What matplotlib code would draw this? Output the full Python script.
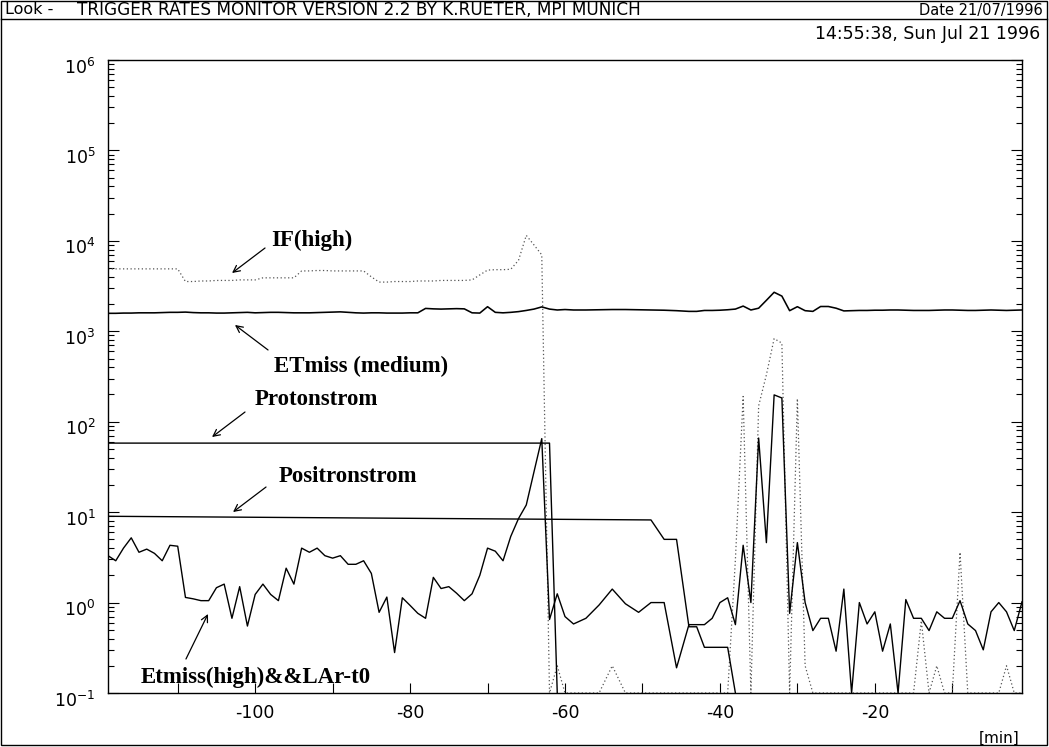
#! /usr/bin/env python
import numpy as np
import matplotlib as mpl
mpl.use('Agg')
import matplotlib.pyplot as plt
import matplotlib.transforms as mtransforms
from matplotlib.lines import Line2D
from matplotlib.patches import Rectangle
mpl.rc('font', family='DejaVu Sans', size=11)
mpl.rc('axes', unicode_minus=False)

W, H = 1049, 747

# time axis in minutes (sampling gets sparse between -60 and -44)
minutes = (list(range(-119, -59))
           + [-58.9, -57.3, -55.6, -53.9, -52.2, -50.5, -48.9, -47.2, -45.6]
           + list(range(-44, 0)))

# Etmiss(high)&&LAr-t0  (0.1 = drawn at the floor of the plot)
etmiss_high = [3.3, 2.9, 4.0, 5.2, 3.6, 3.9, 3.5, 2.9, 4.3, 4.2,
               1.14, 1.1, 1.05, 1.05, 1.46, 1.6, 0.67, 1.5, 0.55, 1.23,
               1.6, 1.23, 1.05, 2.4, 1.6, 4.0, 3.6, 4.0, 3.3, 3.1,
               3.3, 2.65, 2.65, 2.9, 2.1, 0.78, 1.15, 0.28, 1.13, 0.93,
               0.76, 0.67, 1.9, 1.43, 1.5, 1.27, 1.05, 1.25, 2.0, 4.0,
               3.7, 2.9, 5.4, 8.5, 12, 28, 65, 0.65, 1.25, 0.7,
               0.58, 0.67, 0.94, 1.41, 0.97, 0.78, 1.0, 1.0, 0.19,
               0.57, 0.57, 0.57, 0.67, 1.0, 1.13, 0.57, 4.3, 1.0, 66,
               4.6, 198, 183, 0.76, 4.6, 1.0, 0.49, 0.67, 0.67, 0.29,
               1.41, 0.1, 1.0, 0.58, 0.79, 0.29, 0.58, 0.1, 1.08, 0.67,
               0.67, 0.49, 0.79, 0.67, 0.67, 1.05, 0.58, 0.49, 0.3, 0.79,
               1.0, 0.79, 0.49, 1.02]

# ETmiss (medium)
etmiss_medium = [1580, 1580, 1590, 1590, 1600, 1600, 1600, 1610, 1620, 1620,
                 1630, 1610, 1600, 1600, 1590, 1590, 1600, 1610, 1620, 1600,
                 1610, 1620, 1620, 1610, 1600, 1600, 1600, 1610, 1620, 1630,
                 1640, 1620, 1600, 1590, 1600, 1600, 1590, 1590, 1590, 1600,
                 1600, 1790, 1770, 1760, 1770, 1780, 1770, 1600, 1590, 1870,
                 1620, 1600, 1620, 1650, 1700, 1760, 1860, 1760, 1720, 1740,
                 1720, 1720, 1730, 1740, 1740, 1730, 1720, 1710, 1690,
                 1660, 1660, 1700, 1700, 1710, 1730, 1760, 1900, 1720, 1800,
                 2200, 2700, 2450, 1690, 1870, 1690, 1660, 1880, 1880, 1800,
                 1680, 1690, 1700, 1700, 1710, 1710, 1720, 1720, 1710, 1700,
                 1700, 1700, 1710, 1720, 1720, 1710, 1700, 1700, 1710, 1720,
                 1710, 1700, 1710, 1720]

# IF(high)
if_high = [4900, 4900, 4900, 4900, 4900, 4900, 4900, 4900, 4900, 4900,
           3550, 3550, 3600, 3600, 3650, 3650, 3650, 3700, 3700, 3700,
           3900, 3900, 3900, 3900, 3900, 4650, 4650, 4700, 4700, 4650,
           4650, 4650, 4650, 4650, 4000, 3500, 3500, 3550, 3550, 3550,
           3600, 3600, 3600, 3650, 3650, 3650, 3650, 3700, 4200, 4750,
           4800, 4800, 4850, 6100, 11500, 9000, 7000, 0.1, 0.2, 0.1,
           0.1, 0.1, 0.1, 0.2, 0.1, 0.1, 0.1, 0.1, 0.1,
           0.1, 0.1, 0.1, 0.1, 0.1, 0.1, 3, 190, 0.1, 150,
           330, 830, 740, 0.1, 180, 0.2, 0.1, 0.1, 0.1, 0.1,
           0.1, 0.1, 0.1, 0.1, 0.1, 0.1, 0.1, 0.1, 0.1, 0.1,
           0.63, 0.1, 0.2, 0.1, 0.1, 3.6, 0.1, 0.1, 0.1, 0.1,
           0.1, 0.2, 0.1, 0.1]

# Protonstrom / Positronstrom are flat lines with a few steps
proton_t = [-119, -62, -61]
proton = [58, 58, 0.1]
positron_t = [-119, -48.9, -47.2, -45.6, -44, -43, -42, -39, -38]
positron = [9.0, 8.2, 5.0, 5.0, 0.54, 0.54, 0.32, 0.32, 0.1]

# label text, arrow start, arrow tip (axes fraction)
labels = [
  ('IF(high)', (0.2232, 0.7156), (0.1718, 0.7030), (0.1357, 0.6635)),
  ('ETmiss (medium)', (0.2768, 0.5166), (0.1751, 0.5419), (0.1389, 0.5814)),
  ('Protonstrom', (0.2281, 0.4629), (0.1499, 0.4439), (0.1138, 0.4044)),
  ('Positronstrom', (0.2620, 0.3428), (0.1729, 0.3254), (0.1368, 0.2859)),
  ('Etmiss(high)&&LAr-t0', (0.1614, 0.0253), (0.0853, 0.0537), (0.1094, 0.1248)),
]


def fx(px):
  return px / float(W)

def fy(py):
  return 1.0 - py / float(H)


def frame(fig):
  # outer box and the header line, like the old HIGZ screen dump
  fig.add_artist(Rectangle((fx(1), fy(745)), fx(1046), 744.0 / H,
                           transform=fig.transFigure, fill=False, lw=1.0, color='k'))
  fig.add_artist(Line2D([fx(1), fx(1047)], [fy(19), fy(19)],
                        transform=fig.transFigure, lw=1.0, color='k'))
  fig.text(fx(5), fy(10), 'Look -', va='center', ha='left', fontsize=11.5)
  fig.text(fx(77), fy(10), 'TRIGGER RATES MONITOR VERSION 2.2 BY K.RUETER, MPI MUNICH',
           va='center', ha='left', fontsize=12.2)
  fig.text(fx(1043), fy(10), 'Date 21/07/1996', va='center', ha='right', fontsize=10.5)
  fig.text(fx(1040), fy(34), '14:55:38, Sun Jul 21 1996', va='center', ha='right', fontsize=12.5)
  fig.text(fx(1019), fy(738), '[min]', va='center', ha='right', fontsize=11)


def main():
  fig = plt.figure(figsize=(W / 100.0, H / 100.0), dpi=100)
  ax = fig.add_axes([fx(108), fy(693), fx(914), 633.0 / H])

  ax.plot(minutes, if_high, color='#555555', lw=0.9, ls=(0, (1, 2)))
  ax.plot(minutes, etmiss_medium, color='k', lw=1.15)
  ax.plot(proton_t, proton, color='k', lw=1.0)
  ax.plot(positron_t, positron, color='k', lw=1.0)
  ax.plot(minutes, etmiss_high, color='k', lw=1.0)

  ax.set_yscale('log')
  ax.set_ylim(0.1, 1e6)
  ax.set_xlim(-119, -1)

  ax.set_xticks(np.arange(-110, 0, 10))
  ax.set_xticklabels([str(v) if v % 20 == 0 else '' for v in range(-110, 0, 10)])
  ax.set_yticks([10.0 ** k for k in range(-1, 7)])
  ax.set_yticklabels([r'$\mathregular{10^{%d}}$' % k for k in range(-1, 7)])
  ax.yaxis.set_minor_locator(mpl.ticker.LogLocator(base=10, subs=np.arange(2, 10), numticks=20))
  ax.yaxis.set_minor_formatter(mpl.ticker.NullFormatter())
  ax.tick_params(axis='both', which='both', direction='in', top=False, right=True, width=0.8)
  ax.tick_params(axis='y', which='major', length=8, pad=9, labelsize=12.5)
  ax.tick_params(axis='y', which='minor', length=4)
  ax.tick_params(axis='x', which='major', length=7, pad=8, labelsize=12.5)
  # the old labels sit a little below their tick
  shift = mtransforms.ScaledTranslation(0, -4 / 72.0, fig.dpi_scale_trans)
  for lab in ax.get_yticklabels():
    lab.set_transform(lab.get_transform() + shift)
  for s in ax.spines.values():
    s.set_linewidth(1.0)

  for text, pos, start, tip in labels:
    ax.text(pos[0], pos[1], text, transform=ax.transAxes, ha='center', va='center',
            family='Liberation Serif', weight='bold', fontsize=16.5)
    ax.annotate('', xy=tip, xytext=start, xycoords='axes fraction',
                textcoords='axes fraction',
                arrowprops=dict(arrowstyle='->', lw=0.9, color='k',
                                shrinkA=0, shrinkB=0, mutation_scale=12))

  frame(fig)
  fig.savefig('out.png', dpi=100)


main()
